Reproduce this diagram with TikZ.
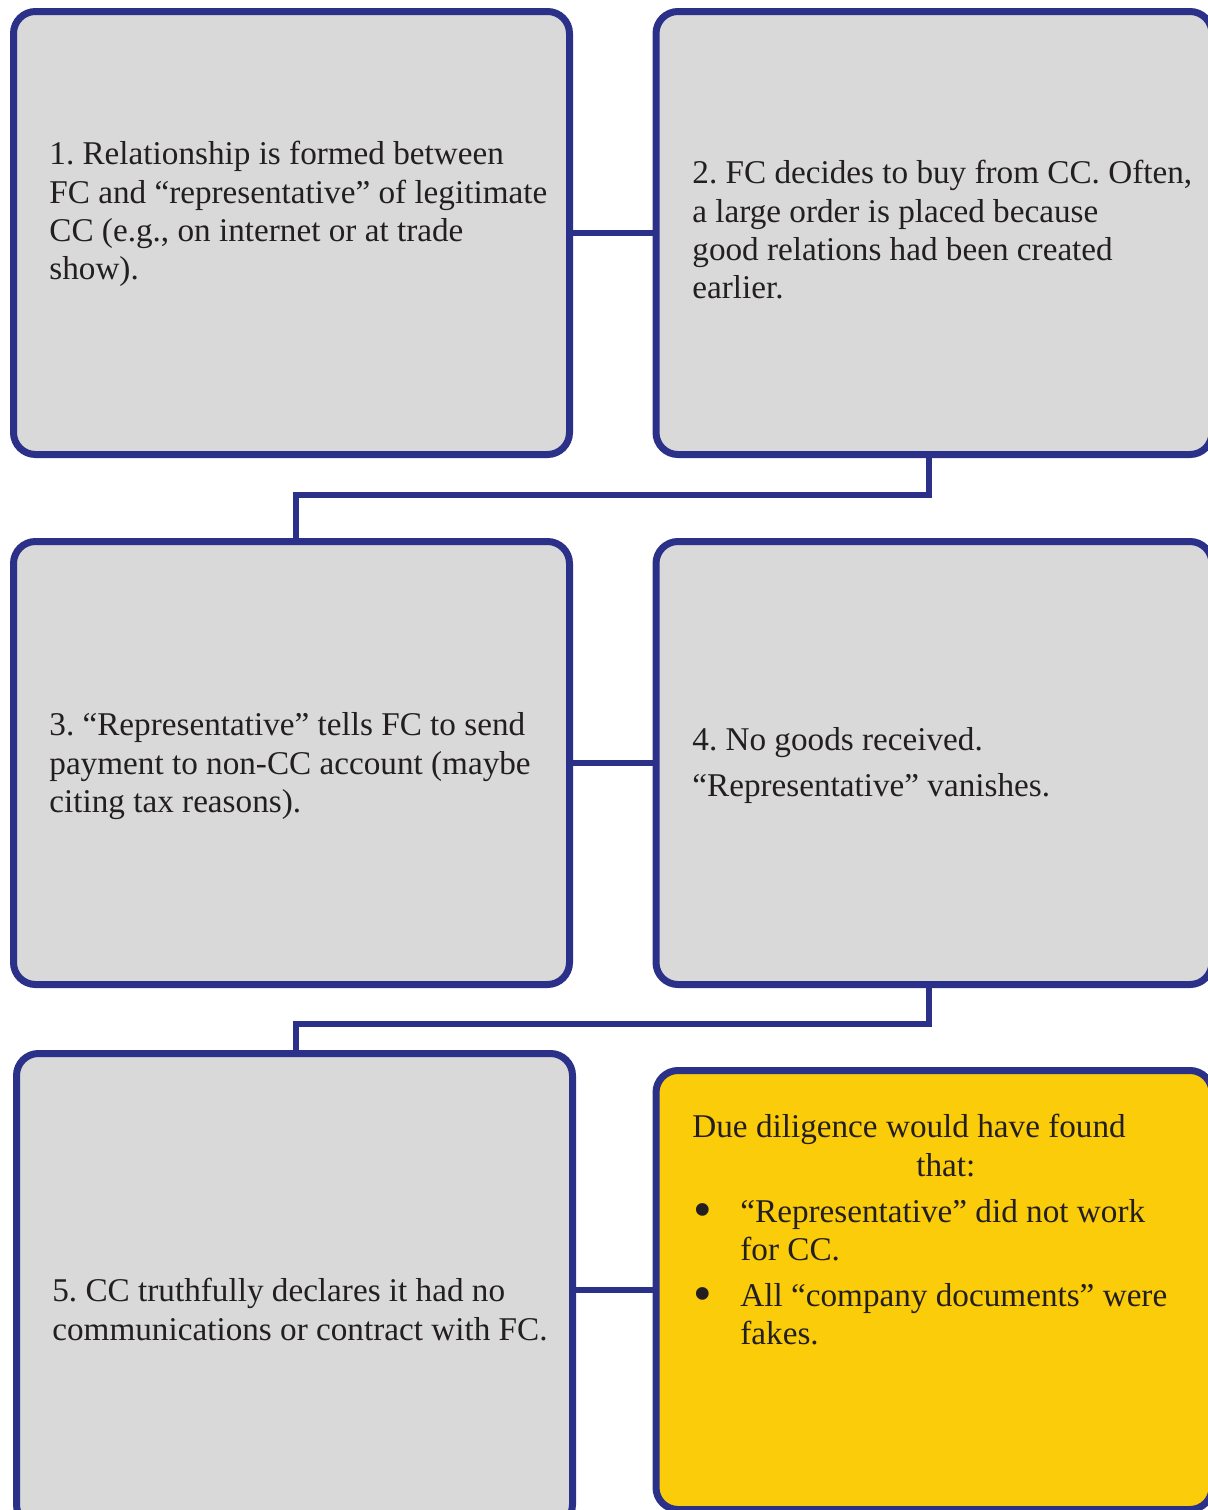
\documentclass[tikz,border=0pt]{standalone}
\usepackage{fontspec}
\setmainfont{Liberation Serif}
\definecolor{bordercol}{HTML}{2B3188}
\definecolor{boxgray}{HTML}{D9D9D9}
\definecolor{boxyellow}{HTML}{FBCC0A}
\definecolor{txtcol}{HTML}{231F20}
\newcommand{\bigbul}{\raisebox{-2.6pt}{\scalebox{1.6}{•}}}
\begin{document}
\frenchspacing
\begin{tikzpicture}[x=0.5pt,y=-0.5pt,
  box/.style={draw=bordercol, line width=3.5pt, rounded corners=11pt, fill=boxgray, inner sep=0pt},
  yellowbox/.style={box, fill=boxyellow},
  txt/.style={anchor=north west, inner sep=0pt, align=left, text=txtcol, font=\fontsize{16.6}{19.2}\selectfont\frenchspacing},
  conn/.style={draw=bordercol, line width=3.3pt}]
\useasboundingbox (0,0) rectangle (1207,1510);
\fill[white] (0,0) rectangle (1207,1510);

% boxes
\node[box, minimum width=278pt, minimum height=221.5pt] (b1) at (291.5,233) {};
\node[box, minimum width=278pt, minimum height=221.5pt] (b2) at (934,233) {};
\node[box, minimum width=278pt, minimum height=221.5pt] (b3) at (291.5,763) {};
\node[box, minimum width=278pt, minimum height=221.5pt] (b4) at (934,763) {};
\node[box, minimum width=278pt, minimum height=236.5pt] (b5) at (294.5,1290) {};
\node[yellowbox, minimum width=278pt, minimum height=219.5pt] (b6) at (934,1290) {};

% texts
\node[txt] (t1) at (49,137.4) {\strut 1. Relationship is formed between\\FC and “representative” of legitimate\\CC (e.g., on internet or at trade\\show).};
\node[txt] (t2) at (692,156.4) {\strut 2. FC decides to buy from CC. Often,\\a large order is placed because\\good relations had been created\\earlier.};
\node[txt] (t3) at (49,708.4) {\strut 3. “Representative” tells FC to send\\payment to non-CC account (maybe\\citing tax reasons).};
\node[txt] (t4) at (692,723.4) {\strut 4. No goods received.\\[3.8pt]“Representative” vanishes.};
\node[txt] (t5) at (52,1274.4) {\strut 5. CC truthfully declares it had no\\communications or contract with FC.};
\node[txt] (t6) at (692,1110.4) {\strut Due diligence would have found\\\hspace*{112pt}that:\\[3.8pt]
  \hspace*{0.5pt}\makebox[23.5pt][l]{\bigbul}“Representative” did not work\\\hspace*{24pt}for CC.\\[3.8pt]
  \hspace*{0.5pt}\makebox[23.5pt][l]{\bigbul}All “company documents” were\\\hspace*{24pt}fakes.};

% connectors
\draw[conn] (b1.east) -- (b2.west);
\draw[conn] ([xshift=-2.5pt]b2.south) -- ++(0,37) -| ([xshift=2.25pt]b3.north);
\draw[conn] (b3.east) -- (b4.west);
\draw[conn] ([xshift=-2.5pt]b4.south) -- ++(0,36) -| ([xshift=0.75pt]b5.north);
\draw[conn] (b5.east) -- (b6.west);
\end{tikzpicture}
\end{document}
